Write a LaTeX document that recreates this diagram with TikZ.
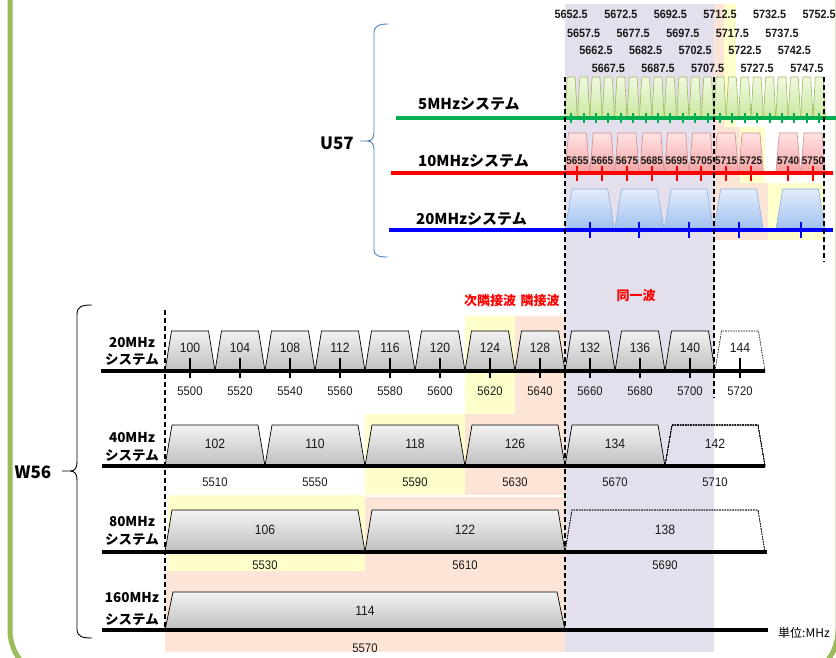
\documentclass[tikz,border=0pt]{standalone}
\usepackage{fontspec}
\setmainfont{Liberation Sans}
\newfontfamily\jp{Noto Sans CJK JP}
\newfontfamily\narrowsans[FakeStretch=0.9]{Liberation Sans}

\definecolor{lav}{HTML}{E4DFEC}
\definecolor{peach}{HTML}{FCE4D6}
\definecolor{ylw}{HTML}{FFFFCC}
\definecolor{frame}{HTML}{9BBB59}
\definecolor{gline}{HTML}{00B050}
\definecolor{gedge}{HTML}{9BBB59}
\definecolor{gtop}{HTML}{F0F9E0}
\definecolor{gbot}{HTML}{CBE8A0}
\definecolor{rtop}{HTML}{FFE4E4}
\definecolor{rbot}{HTML}{F4A2A2}
\definecolor{redge}{HTML}{D9898A}
\definecolor{btop}{HTML}{E3ECFA}
\definecolor{bbot}{HTML}{9EBFEE}
\definecolor{bedge}{HTML}{8DB3E2}
\definecolor{bracecol}{HTML}{4F81BD}
\definecolor{numcol}{HTML}{1A1A1A}

% frequency (MHz) to horizontal position: lower W56 chart and upper U57 chart
\newcommand\F[1]{190+2.5*(#1-5500)}
\newcommand\G[1]{565+2.48*(#1-5650)}
% channel trapezoid: left x, right x, top y, base y, top inset, style
\newcommand\trap[6]{\path[#6] ({#1},#4) -- ({#1+#5},#3) -- ({#2-#5},#3) -- ({#2},#4) -- cycle;}

\begin{document}
\begin{tikzpicture}[x=1pt,y=-1pt,
  fivetab/.style={draw=gedge,line width=0.6pt,top color=gtop,bottom color=gbot,rounded corners=0.8pt},
  tentrap/.style={draw=redge,line width=0.6pt,top color=rtop,bottom color=rbot},
  twentrap/.style={draw=bedge,line width=0.6pt,top color=btop,bottom color=bbot},
  graytrap/.style={draw=black,line width=0.7pt,top color=black!5,bottom color=black!25},
  opentrap/.style={draw=black,line width=0.6pt,dash pattern=on 1.6pt off 1pt},
  axis/.style={line width=3.5pt},
  tickmark/.style={line width=2pt},
  guide/.style={draw=black,line width=1.3pt,dash pattern=on 5pt off 3pt},
  fl/.style={inner sep=0pt,anchor=base,text=numcol,font=\narrowsans\bfseries\fontsize{12}{12}\selectfont},
  tl/.style={inner sep=0pt,anchor=base,text=numcol,font=\narrowsans\bfseries\fontsize{11}{11}\selectfont},
  chl/.style={inner sep=0pt,anchor=base,text=numcol,font=\narrowsans\fontsize{13.5}{13.5}\selectfont},
  frl/.style={inner sep=0pt,anchor=base,text=numcol,font=\narrowsans\fontsize{12.5}{12.5}\selectfont},
  sysl/.style={inner sep=0pt,anchor=base,font=\jp\bfseries\fontsize{13.5}{13.5}\selectfont},
  usysl/.style={inner sep=0pt,anchor=base west,font=\jp\bfseries\fontsize{15}{15}\selectfont},
  redl/.style={inner sep=0pt,anchor=base,text=red,font=\jp\bfseries\fontsize{13}{13}\selectfont},
  bandl/.style={inner sep=0pt,anchor=base,font=\jp\bfseries\fontsize{17}{17}\selectfont}]
\useasboundingbox (0,0) rectangle (836,658);
\clip (0,0) rectangle (836,658);

% ---------- background bands ----------
\fill[lav] (565,4) rectangle (714,652);
% U57 neighbours
\fill[peach] (714,4) rectangle (724,127);
\fill[ylw]   (724,4) rectangle (736,127);
\fill[peach] (714,127) rectangle (740,183);
\fill[ylw]   (740,127) rectangle (765,183);
\fill[peach] (714,183) rectangle (768,240);
\fill[ylw]   (768,183) rectangle (824,240);
% W56 neighbours
\fill[ylw]   ({\F{5610}},316) rectangle ({\F{5630}},414);
\fill[peach] ({\F{5630}},316) rectangle ({\F{5650}},414);
\fill[ylw]   ({\F{5570}},414) rectangle ({\F{5610}},495);
\fill[peach] ({\F{5610}},414) rectangle ({\F{5650}},495);
\fill[ylw]   ({\F{5490}+3},495) rectangle ({\F{5570}},571);
\fill[peach] ({\F{5570}},497) rectangle ({\F{5650}},571);
\fill[peach] ({\F{5490}},571) rectangle ({\F{5650}},652);

% ---------- frame ----------
\draw[frame,line width=5pt,rounded corners=50pt] (10,-80) rectangle (838,680);

% ---------- U57: 5 MHz system ----------
\foreach \i in {0,...,20}{
  \pgfmathsetmacro\lo{5650+5*\i}
  \trap{\G{\lo}}{\G{\lo+5}}{77}{118}{2.3}{fivetab}
}
\draw[gline,axis] (396,118) -- (836,118);
\foreach \i in {0,...,20}{
  \pgfmathsetmacro\fc{5652.5+5*\i}
  \draw[gline,tickmark] ({\G{\fc}},113) -- ({\G{\fc}},123);
}
\foreach \f in {5652.5,5672.5,5692.5,5712.5,5732.5,5752.5}
  \node[fl] (a\f) at ({\G{\f}},19) {\f};
\foreach \f in {5657.5,5677.5,5697.5,5717.5,5737.5}
  \node[fl] (b\f) at ({\G{\f}},38) {\f};
\foreach \f in {5662.5,5682.5,5702.5,5722.5,5742.5}
  \node[fl] (c\f) at ({\G{\f}},55) {\f};
\foreach \f in {5667.5,5687.5,5707.5,5727.5,5747.5}
  \node[fl] (d\f) at ({\G{\f}},73) {\f};
\node[usysl] (s5) at (418,110) {5MHzシステム};

% ---------- U57: 10 MHz system ----------
\foreach \lo/\hi/\fc in {5650/5660/5655,5660/5670/5665,5670/5680/5675,5680/5690/5685,
    5690/5700/5695,5700/5710/5705,5710/5720/5715,5720/5730/5725,5735/5745/5740,5745/5755/5750}{
  \trap{\G{\lo}}{\G{\hi}}{133}{173}{3.5}{tentrap}
}
\draw[red,axis] (391,173) -- (833,173);
\foreach \fc in {5655,5665,5675,5685,5695,5705,5715,5725,5740,5750}{
  \draw[red,tickmark] ({\G{\fc}},166) -- ({\G{\fc}},181);
  \node[tl] (t\fc) at ({\G{\fc}},165) {\fc};
}
\node[usysl] (s10) at (418,167) {10MHzシステム};

% ---------- U57: 20 MHz system ----------
\foreach \lo/\hi in {5650/5670,5670/5690,5690/5710,5710/5730,5735/5755}{
  \trap{\G{\lo}}{\G{\hi}}{189}{230}{7}{twentrap}
}
\draw[blue,axis] (389,230) -- (833,230);
\foreach \fc in {5660,5680,5700,5720,5745}
  \draw[blue,tickmark] ({\G{\fc}},222) -- ({\G{\fc}},238);
\node[usysl] (s20) at (416,225) {20MHzシステム};

% U57 brace
\draw[bracecol,line width=0.9pt]
  (388,24) .. controls (379,24) and (374,26) .. (374,33) -- (374,132)
  .. controls (374,138) and (372,141) .. (367,141) -- (360,141)
  (367,141) .. controls (372,141) and (374,144) .. (374,150) -- (374,249)
  .. controls (374,256) and (379,257) .. (388,257);
\node[bandl] (u57) at (337,150) {U57};

% ---------- W56: 20 MHz system ----------
\foreach \ch [count=\i from 0] in {100,104,...,140}{
  \pgfmathtruncatemacro\fc{5500+20*\i}
  \trap{\F{\fc-10}}{\F{\fc+10}}{331}{371}{6.5}{graytrap}
}
\trap{\F{5710}}{\F{5730}}{331}{371}{6.5}{opentrap}
\draw[axis] (101,371) -- (765,371);
\foreach \ch [count=\i from 0] in {100,104,...,144}{
  \pgfmathtruncatemacro\fc{5500+20*\i}
  \draw[tickmark] ({\F{\fc}},358) -- ({\F{\fc}},378);
  \node[chl] (ch\ch) at ({\F{\fc}},352) {\ch};
  \node[frl] (fq\ch) at ({\F{\fc}},395) {\fc};
}
\node[sysl] (w20a) at (132,347) {20MHz};
\node[sysl] (w20b) at (132,364) {システム};

% ---------- W56: 40 MHz system ----------
\foreach \ch/\fc in {102/5510,110/5550,118/5590,126/5630,134/5670}
  \trap{\F{\fc-20}}{\F{\fc+20}}{425}{466}{7}{graytrap}
\trap{\F{5690}}{\F{5730}}{425}{466}{7}{opentrap}
\draw[axis] (102,466) -- (765,466);
\foreach \ch/\fc in {102/5510,110/5550,118/5590,126/5630,134/5670,142/5710}{
  \node[chl] (ch\ch) at ({\F{\fc}},448) {\ch};
  \node[frl] (fq\ch) at ({\F{\fc}},486) {\fc};
}
\node[sysl] (w40a) at (132,442) {40MHz};
\node[sysl] (w40b) at (132,460) {システム};

% ---------- W56: 80 MHz system ----------
\foreach \ch/\fc in {106/5530,122/5610}
  \trap{\F{\fc-40}}{\F{\fc+40}}{510}{552}{7}{graytrap}
\trap{\F{5650}}{\F{5730}}{510}{552}{7}{opentrap}
\draw[axis] (102,552) -- (767,552);
\foreach \ch/\fc in {106/5530,122/5610,138/5690}{
  \node[chl] (ch\ch) at ({\F{\fc}},534) {\ch};
  \node[frl] (fq\ch) at ({\F{\fc}},569) {\fc};
}
\node[sysl] (w80a) at (132,526) {80MHz};
\node[sysl] (w80b) at (132,544) {システム};

% ---------- W56: 160 MHz system ----------
\trap{\F{5490}}{\F{5650}}{592}{630}{8}{graytrap}
\draw[axis] (102,630) -- (768,630);
\node[chl] (ch114) at ({\F{5570}},615) {114};
\node[frl] (fq114) at ({\F{5570}},652) {5570};
\node[sysl] (w160a) at (132,602) {160MHz};
\node[sysl] (w160b) at (132,624) {システム};
\node[inner sep=0pt,anchor=base west,font=\jp\fontsize{12}{12}\selectfont] (unit) at (778,637) {単位:MHz};

% W56 brace
\draw[black,line width=0.9pt]
  (92,305) .. controls (83,305) and (77,306) .. (77,314) -- (77,462)
  .. controls (77,468) and (75,471) .. (70,471) -- (62,471)
  (70,471) .. controls (75,471) and (77,474) .. (77,480) -- (77,629)
  .. controls (77,637) and (83,638) .. (92,638);
\node[bandl] (w56) at (33,478) {W56};

% interference labels
\node[redl] (nadj) at ({\F{5620}},305) {次隣接波};
\node[redl] (adj)  at (540,305) {隣接波};
\node[redl] (same) at (636,300) {同一波};

% ---------- guide lines ----------
\draw[guide] ({\F{5490}},310) -- ({\F{5490}},630);
\draw[guide] (565,77) -- (565,630);
\draw[guide] (714,77) -- (714,398);
\draw[guide] (824,77) -- (824,262);
\end{tikzpicture}
\end{document}
